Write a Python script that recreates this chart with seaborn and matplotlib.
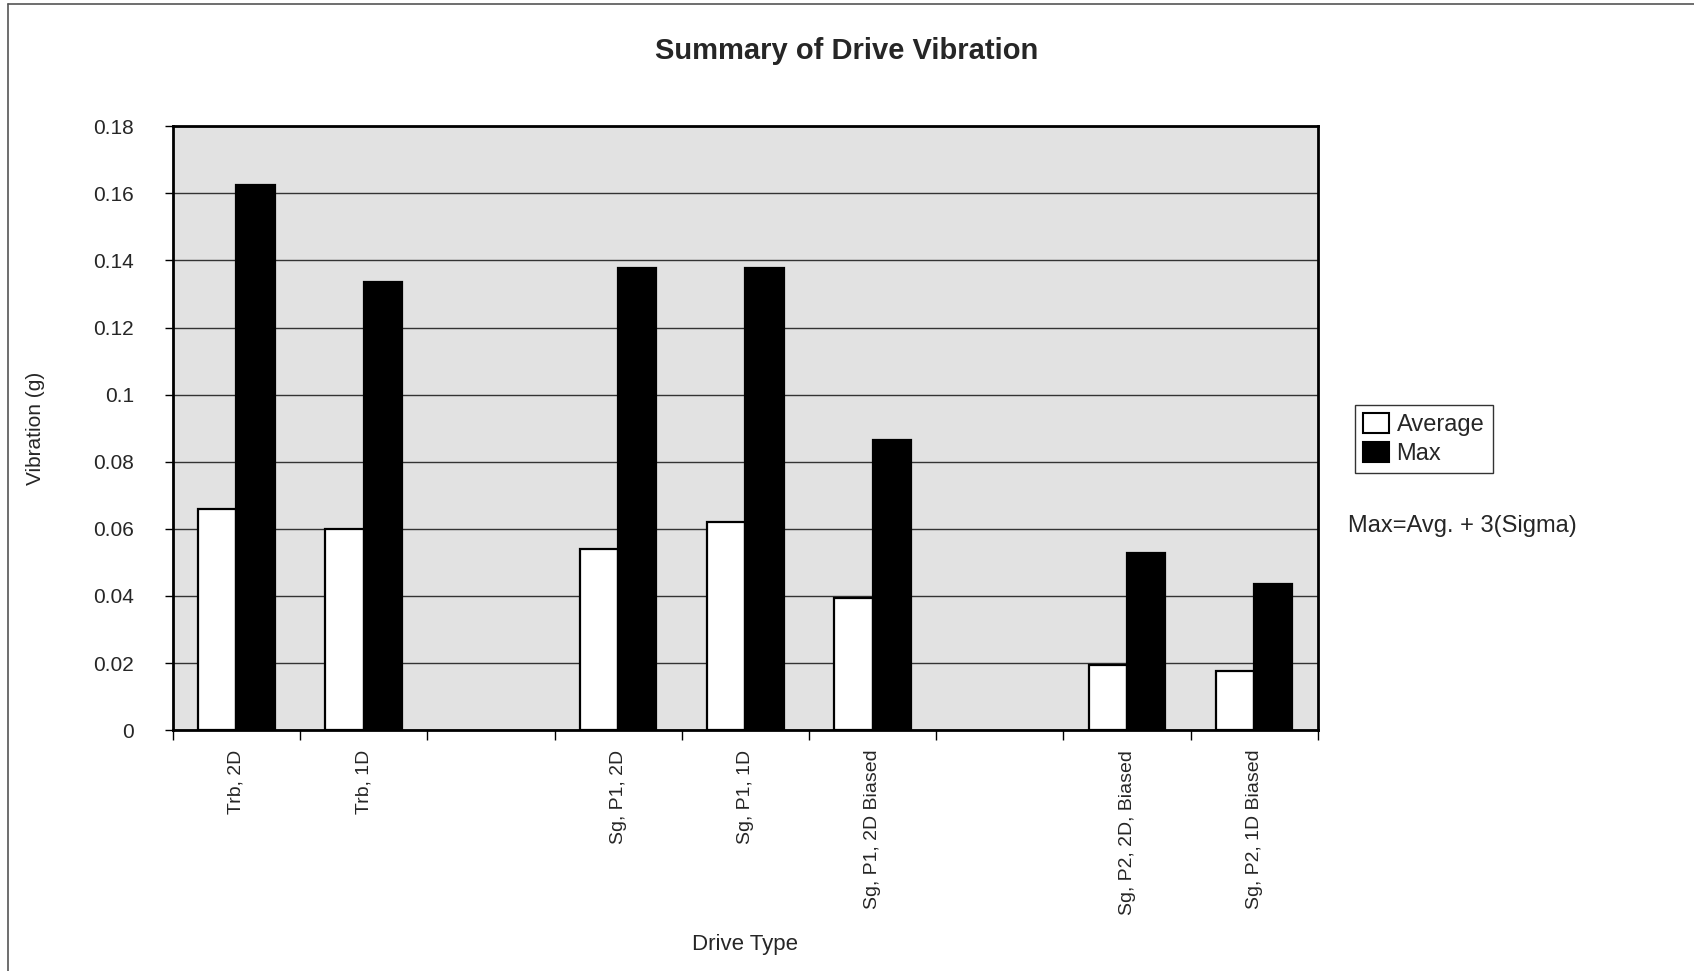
import seaborn as sns
import pandas as pd
import matplotlib.pyplot as plt
from matplotlib.lines import Line2D

# Slots on the category axis (blank slots are gaps between drive groups)
slots = ['Trb, 2D', 'Trb, 1D', ' ', 'Sg, P1, 2D', 'Sg, P1, 1D',
         'Sg, P1, 2D Biased', '  ', 'Sg, P2, 2D, Biased', 'Sg, P2, 1D Biased']
drives = ['Trb, 2D', 'Trb, 1D', 'Sg, P1, 2D', 'Sg, P1, 1D',
          'Sg, P1, 2D Biased', 'Sg, P2, 2D, Biased', 'Sg, P2, 1D Biased']
average = [0.066, 0.060, 0.054, 0.062, 0.0395, 0.0193, 0.0177]
maximum = [0.1625, 0.1336, 0.1378, 0.1378, 0.0865, 0.0528, 0.0435]
yticks = [0, 0.02, 0.04, 0.06, 0.08, 0.1, 0.12, 0.14, 0.16, 0.18]
ytick_labels = ['0', '0.02', '0.04', '0.06', '0.08', '0.1', '0.12', '0.14', '0.16', '0.18']

df = pd.DataFrame({
    'Drive': drives * 2,
    'Series': ['Average'] * len(drives) + ['Max'] * len(drives),
    'Vibration': average + maximum,
})

sns.set_style('white')
plt.rcParams['font.family'] = ['Liberation Sans', 'DejaVu Sans']

fig = plt.figure(figsize=(16.94, 9.71), dpi=100, facecolor='white')
ax = fig.add_axes([0.102, 0.248, 0.676, 0.622])

sns.barplot(data=df, x='Drive', y='Vibration', hue='Series', order=slots,
            hue_order=['Average', 'Max'],
            palette={'Average': 'white', 'Max': 'black'},
            width=0.6, edgecolor='black', linewidth=1.6, saturation=1,
            ax=ax, zorder=3)

ax.set_facecolor('#e2e2e2')
ax.set_xlim(-0.5, len(slots) - 0.5)
ax.set_ylim(0, 0.18)
ax.set_yticks(yticks)
ax.set_yticklabels(ytick_labels, fontsize=15)
ax.yaxis.grid(True, color='#333333', linewidth=1.0, zorder=0)
ax.set_axisbelow(True)

# category labels centred in slots, tick marks on slot boundaries
ax.set_xticks(range(len(slots)))
ax.set_xticklabels(slots, rotation=90, fontsize=14, va='top')
ax.tick_params(axis='x', length=0, pad=14)
ax.set_xticks([i - 0.5 for i in range(len(slots) + 1)], minor=True)
ax.tick_params(axis='x', which='minor', length=7, width=1, direction='out', color='black', bottom=True)
ax.tick_params(axis='y', length=6, width=1, direction='out', color='black', left=True, pad=22)

for s in ax.spines.values():
    s.set_color('black')
    s.set_linewidth(2)

ax.set_xlabel('Drive Type', fontsize=16, va='center')
ax.xaxis.set_label_coords(0.5, -0.355)
ax.set_ylabel('Vibration (g)', fontsize=15)
ax.yaxis.set_label_coords(-0.112, 0.5)

fig.suptitle('Summary of Drive Vibration', fontsize=21, fontweight='bold', y=0.962)

ax.legend_.remove()
handles = [plt.Rectangle((0, 0), 1, 1, facecolor='white', edgecolor='black', linewidth=1.5),
           plt.Rectangle((0, 0), 1, 1, facecolor='black', edgecolor='black', linewidth=1.5)]
leg = fig.legend(handles, ['Average', 'Max'], loc='upper left',
                 bbox_to_anchor=(0.800, 0.583), fontsize=17, frameon=True,
                 fancybox=False, edgecolor='black', handlelength=1.1,
                 handleheight=0.9, handletextpad=0.3, borderpad=0.35,
                 labelspacing=0.25, borderaxespad=0)
leg.get_frame().set_linewidth(1)

fig.text(0.796, 0.458, 'Max=Avg. + 3(Sigma)', fontsize=17, va='center', ha='left')

# outer chart-area border (left and top edges)
fig.add_artist(Line2D([0.005, 0.005], [0, 0.996], color='#555555', linewidth=1.2))
fig.add_artist(Line2D([0.005, 1], [0.996, 0.996], color='#555555', linewidth=1.2))

fig.savefig('out.png', dpi=100, facecolor='white')
